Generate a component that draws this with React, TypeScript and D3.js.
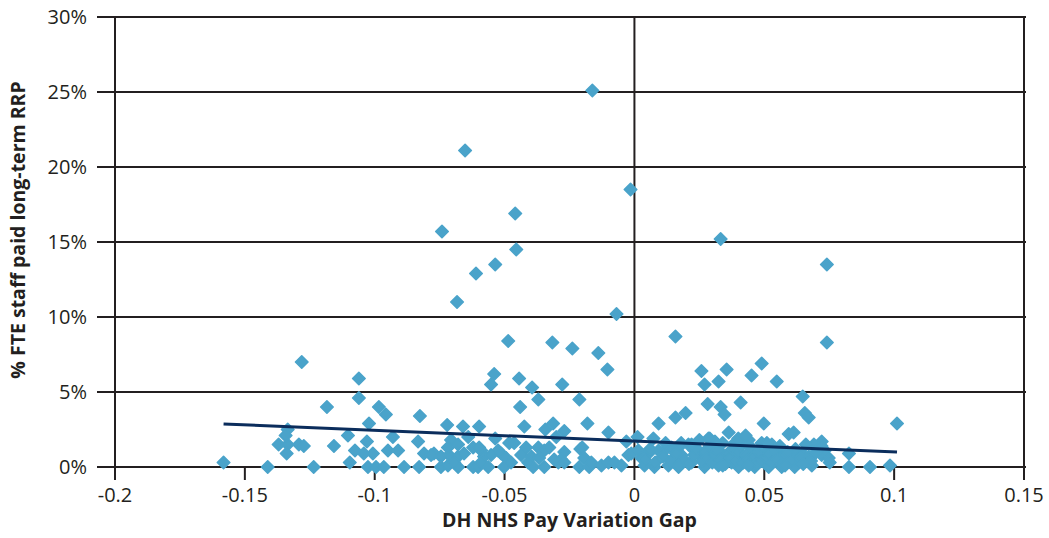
import React from "react";
import * as d3 from "d3";

// ---- data (x = pay variation gap, y = % FTE staff paid long-term RRP) ----
const outlierPoints: [number, number][] = [
  [-0.0162, 25.1], [-0.0652, 21.1], [-0.0015, 18.5], [-0.0459, 16.9], [-0.0741, 15.7],
  [0.0332, 15.2], [-0.0455, 14.5], [-0.0536, 13.5], [0.0741, 13.5], [-0.061, 12.9],
  [-0.0683, 11.0], [-0.0069, 10.2], [0.0158, 8.7], [-0.0486, 8.4], [-0.0316, 8.3],
  [0.0741, 8.3], [-0.0239, 7.9], [-0.0139, 7.6], [-0.1281, 7.0], [0.049, 6.9],
  [-0.0104, 6.5], [0.0355, 6.5], [0.0258, 6.4], [-0.054, 6.2], [0.0451, 6.1],
  [-0.1061, 5.9], [-0.0444, 5.9], [-0.0552, 5.5], [-0.0278, 5.5], [0.0324, 5.7],
  [0.0548, 5.7], [0.027, 5.5], [-0.0394, 5.3], [-0.037, 4.5], [-0.0212, 4.5],
  [-0.1061, 4.6], [0.0648, 4.7],
];

const midPoints: [number, number][] = [
  [-0.1184, 4.0], [-0.0984, 4.0], [-0.0957, 3.5], [-0.1022, 2.9], [-0.1335, 2.5],
  [-0.1343, 2.1], [-0.1103, 2.1], [-0.093, 2.0], [-0.0826, 3.4], [-0.044, 4.0],
  [-0.0721, 2.8], [-0.066, 2.7], [-0.0598, 2.7], [-0.0424, 2.7], [-0.0343, 2.5],
  [-0.0313, 2.9], [-0.027, 2.4], [-0.0181, 2.9], [-0.0301, 2.0], [-0.0536, 1.9],
  [-0.064, 2.0], [-0.01, 2.3], [0.0093, 2.9], [0.0158, 3.3], [0.0197, 3.6],
  [0.0012, 2.0], [0.0073, 1.9], [0.0282, 4.2], [0.0332, 4.0], [0.0347, 3.5],
  [0.0285, 1.9], [0.0363, 2.3], [0.0409, 4.3], [0.0656, 3.6], [0.0671, 3.3],
  [0.0498, 2.9], [0.0594, 2.2], [0.0613, 2.3], [0.0428, 2.1], [0.1011, 2.9],
];

const lowPointsLeft: [number, number][] = [
  [-0.1582, 0.3], [-0.1412, 0.0], [-0.1235, 0.0], [-0.137, 1.5], [-0.1335, 1.5],
  [-0.1292, 1.5], [-0.1273, 1.4], [-0.1339, 0.9], [-0.1157, 1.4], [-0.103, 1.7],
  [-0.1076, 1.1], [-0.1042, 0.9], [-0.1007, 0.9], [-0.1096, 0.3], [-0.0949, 1.1],
  [-0.091, 1.1], [-0.1026, 0.0], [-0.0995, 0.0], [-0.0965, 0.0],
  [-0.0833, 1.7], [-0.0706, 1.8], [-0.0679, 1.5], [-0.0621, 1.3], [-0.0525, 1.1],
  [-0.0482, 1.6], [-0.0463, 1.6], [-0.0417, 1.3], [-0.037, 1.3], [-0.0347, 1.1],
  [-0.0328, 1.3], [-0.027, 1.0], [-0.0208, 1.2], [-0.0193, 0.6], [-0.081, 0.9],
  [-0.0772, 0.9], [-0.0745, 0.7], [-0.0714, 0.8], [-0.0679, 0.7], [-0.0656, 0.9],
  [-0.059, 1.1], [-0.0579, 0.7], [-0.0552, 0.8], [-0.0513, 0.9], [-0.0494, 0.6],
  [-0.0436, 0.8], [-0.0397, 0.7], [-0.0367, 0.6], [-0.0309, 0.5], [-0.0282, 0.5],
  [-0.0887, 0.0], [-0.0829, 0.0], [-0.0745, 0.0], [-0.0718, 0.1], [-0.0679, 0.0],
  [-0.0621, 0.0], [-0.0602, 0.0], [-0.0563, 0.0], [-0.0502, 0.0], [-0.039, 0.0],
  [-0.0347, 0.0], [-0.0293, 0.3], [-0.027, 0.3], [-0.0212, 0.0], [-0.0174, 0.0],
  [-0.0694, 0.3], [-0.059, 0.3], [-0.0475, 0.3], [-0.0409, 0.3], [-0.0718, 1.3],
  [-0.0598, 1.3], [-0.0783, 0.8],
];

const lowPointsRight: [number, number][] = [
  [-0.0031, 1.7], [-0.0201, 1.3], [-0.0166, 0.3], [-0.0127, 0.1], [-0.01, 0.3],
  [-0.0077, 0.3], [-0.005, 0.1], [-0.0023, 0.8], [-0.0012, 0.9], [0.0015, 1.1],
  [0.0027, 0.6], [0.0054, 0.9], [0.0093, 1.1], [0.0116, 1.1], [0.0143, 1.3],
  [0.017, 1.3], [0.0181, 0.8], [0.0208, 1.5], [0.0231, 1.1], [0.0258, 0.7],
  [0.0309, 1.3], [0.0336, 0.9], [0.0386, 1.6], [0.0039, 0.1], [0.0077, 0.0],
  [0.0131, 0.1], [0.017, 0.0], [0.022, 0.3], [0.027, 0.0], [0.0324, 0.1],
  [0.0374, 0.3], [0.0401, 0.0], [0.0721, 1.7], [0.0691, 1.5], [0.0826, 0.9],
  [0.0826, 0.0], [0.0907, 0.0], [0.0984, 0.1], [0.049, 1.6], [0.0529, 1.5],
  [0.0451, 1.1], [0.0413, 0.7], [0.0451, 0.5], [0.049, 0.8], [0.054, 0.7],
  [0.0567, 0.9], [0.0606, 0.6], [0.0644, 0.9], [0.0671, 0.7], [0.0694, 0.9],
  [0.0721, 0.8], [0.0748, 0.6], [0.0733, 1.1], [0.0683, 0.1], [0.0617, 0.0],
  [0.0567, 0.0], [0.0517, 0.0], [0.0463, 0.0], [0.0633, 0.3], [0.0752, 0.3],
  [0.0529, 0.3], [0.0579, 0.3],
  [0.004, 0.5], [0.008, 0.3], [0.011, 0.7], [0.014, 0.4], [0.016, 0.9],
  [0.019, 0.5], [0.021, 0.2], [0.023, 0.8], [0.024, 1.2], [0.026, 0.4],
  [0.027, 1.0], [0.028, 0.6], [0.029, 1.4], [0.03, 0.3], [0.031, 0.8],
  [0.032, 1.1], [0.033, 0.5], [0.034, 1.6], [0.035, 0.2], [0.036, 0.9],
  [0.037, 0.6], [0.038, 1.2], [0.039, 0.4], [0.04, 1.0], [0.041, 1.4],
  [0.042, 0.3], [0.043, 0.8], [0.044, 0.5], [0.045, 1.3], [0.046, 0.7],
  [0.047, 0.2], [0.048, 1.0], [0.049, 0.4], [0.05, 1.2], [0.051, 0.6],
  [0.052, 0.9], [0.053, 0.3], [0.054, 1.1], [0.055, 0.5], [0.056, 1.4],
  [0.057, 0.2], [0.058, 0.8], [0.059, 1.0], [0.06, 0.4], [0.062, 1.2],
  [0.064, 0.6], [0.066, 1.5], [0.068, 0.4], [0.07, 1.0], [0.072, 1.4],
  [0.018, 1.6], [0.025, 1.8], [0.029, 1.9], [0.031, 1.7], [0.044, 1.8],
  [0.04, 1.9], [0.051, 1.6], [0.006, 1.2], [0.012, 1.6], [0.017, 0.1],
  [0.022, 1.5], [0.034, 0.1], [0.044, 0.1], [0.058, 0.1], [0.065, 0.2],
];

const trendLine: [number, number][] = [
  [-0.1582, 2.87],
  [0.1011, 1.0],
];

const xTicks = [-0.2, -0.15, -0.1, -0.05, 0, 0.05, 0.1, 0.15];
const xTickLabels = ["-0.2", "-0.15", "-0.1", "-0.05", "0", "0.05", "0.1", "0.15"];
const yTicks = [0, 5, 10, 15, 20, 25, 30];
const yTickLabels = ["0%", "5%", "10%", "15%", "20%", "25%", "30%"];
const verticalLines = [-0.2, 0, 0.15];

const xTitle = "DH NHS Pay Variation Gap";
const yTitle = "% FTE staff paid long-term RRP";

// ---- layout ----
const W = 1049;
const H = 538;
const left = 115;
const right = 1024;
const top = 17;
const bottom = 467;

const FONT = "'Open Sans', 'Noto Sans', sans-serif";
const INK = "#231f20";
const POINT = "#4aa3ca";
const TREND = "#0b2d5c";

export default function App() {
  const x = d3.scaleLinear().domain([-0.2, 0.15]).range([left, right]);
  const y = d3.scaleLinear().domain([0, 30]).range([bottom, top]);

  const allPoints = [...lowPointsLeft, ...lowPointsRight, ...midPoints, ...outlierPoints];
  const diamond = d3.symbol().type(d3.symbolDiamond2).size(100)();
  const line = d3
    .line<[number, number]>()
    .x((d) => x(d[0]))
    .y((d) => y(d[1]));

  return (
    <svg
      width={W}
      height={H}
      style={{ position: "absolute", left: 0, top: 0, background: "#fff" }}
      fontFamily={FONT}
    >
      <rect x={0} y={0} width={W} height={H} fill="#fff" />
      {yTicks.map((t) => (
        <line
          key={"h" + t}
          x1={left - 18}
          x2={right + 2}
          y1={y(t)}
          y2={y(t)}
          stroke={INK}
          strokeWidth={2}
        />
      ))}
      {verticalLines.map((v) => (
        <line
          key={"v" + v}
          x1={x(v)}
          x2={x(v)}
          y1={top - 1}
          y2={bottom}
          stroke={INK}
          strokeWidth={2}
        />
      ))}
      {xTicks.map((t) => (
        <line
          key={"xt" + t}
          x1={x(t)}
          x2={x(t)}
          y1={bottom}
          y2={bottom + 13}
          stroke={INK}
          strokeWidth={2}
        />
      ))}
      {allPoints.map((p, i) => (
        <path
          key={"p" + i}
          d={diamond}
          transform={`translate(${x(p[0])},${y(p[1])})`}
          fill={POINT}
          stroke={POINT}
          strokeWidth={1.6}
          strokeLinejoin="round"
        />
      ))}
      <path d={line(trendLine) || ""} fill="none" stroke={TREND} strokeWidth={3} />
      {yTicks.map((t, i) => (
        <text
          key={"yl" + t}
          x={87}
          y={y(t)}
          dy="0.36em"
          textAnchor="end"
          fontSize={20}
          fill={INK}
        >
          {yTickLabels[i]}
        </text>
      ))}
      {xTicks.map((t, i) => (
        <text
          key={"xl" + t}
          x={x(t)}
          y={502}
          textAnchor="middle"
          fontSize={20}
          fill={INK}
        >
          {xTickLabels[i]}
        </text>
      ))}
      <text
        x={(left + right) / 2}
        y={527}
        textAnchor="middle"
        fontSize={19.5}
        fontWeight="bold"
        fill={INK}
      >
        {xTitle}
      </text>
      <text
        transform={`translate(25,230) rotate(-90)`}
        textAnchor="middle"
        fontSize={19.5}
        fontWeight="bold"
        fill={INK}
      >
        {yTitle}
      </text>
    </svg>
  );
}
